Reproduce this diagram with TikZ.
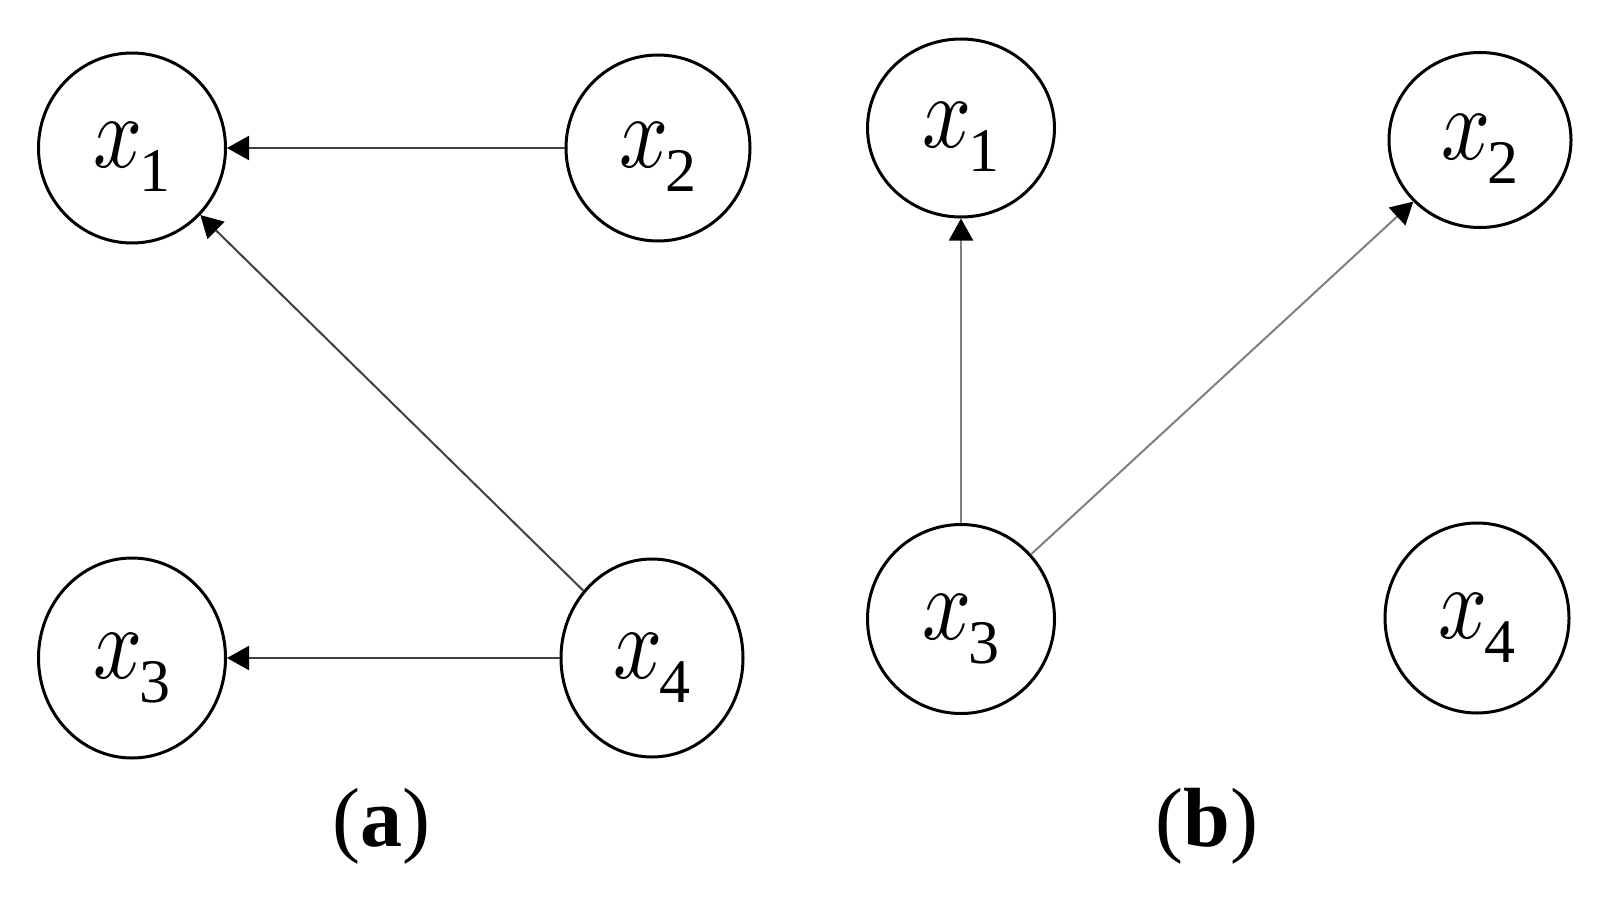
\documentclass[tikz,border=0pt]{standalone}
\usepackage{graphicx}
\usepackage{fontspec}
\setmainfont{Liberation Serif}
\usetikzlibrary{arrows.meta,shapes.geometric}
\newcommand\xvar[1]{\scalebox{4.3}[5.2]{$x$}\kern-1.5pt\raisebox{-12pt}{\fontsize{31}{31}\selectfont #1}}
\tikzset{
  vnode/.style 2 args={ellipse, draw, line width=1.5pt, inner sep=0pt,
    minimum width=#1*0.5pt, minimum height=#2*0.5pt,
    text height=31pt, text depth=11pt},
  conn/.style={line width=1pt, -{Triangle[length=11pt,width=12pt,color=black]}},
  conna/.style={conn, draw=black!75},
  connb/.style={conn, draw=black!50},
  caption/.style={font=\fontsize{42}{50}\selectfont, inner sep=0pt}
}
\begin{document}
\begin{tikzpicture}[x=0.5pt,y=-0.5pt]
\useasboundingbox (0,0) rectangle (1611,899);
% panel (a)
\node[vnode={187}{190}] (a1) at (132,148) {\xvar{1}};
\node[vnode={184}{186}] (a2) at (658,148) {\xvar{2}};
\node[vnode={187}{200}] (a3) at (132,658) {\xvar{3}};
\node[vnode={182}{198}] (a4) at (652,658) {\xvar{4}};
\draw[conna] (a2) -- (a1);
\draw[conna] (a4) -- (a1);
\draw[conna] (a4) -- (a3);
% panel (b)
\node[vnode={187}{178}] (b1) at (961,128) {\xvar{1}};
\node[vnode={182}{175}] (b2) at (1480,140) {\xvar{2}};
\node[vnode={187}{189}] (b3) at (961,619) {\xvar{3}};
\node[vnode={184}{190}] (b4) at (1477,618) {\xvar{4}};
\draw[connb] (b3) -- (b1);
\draw[connb] (b3) -- (b2);
% captions
\node[caption] (ca) at (381,826) {(\textbf{a})};
\node[caption] (cb) at (1207,826) {(\textbf{b})};
\end{tikzpicture}
\end{document}
